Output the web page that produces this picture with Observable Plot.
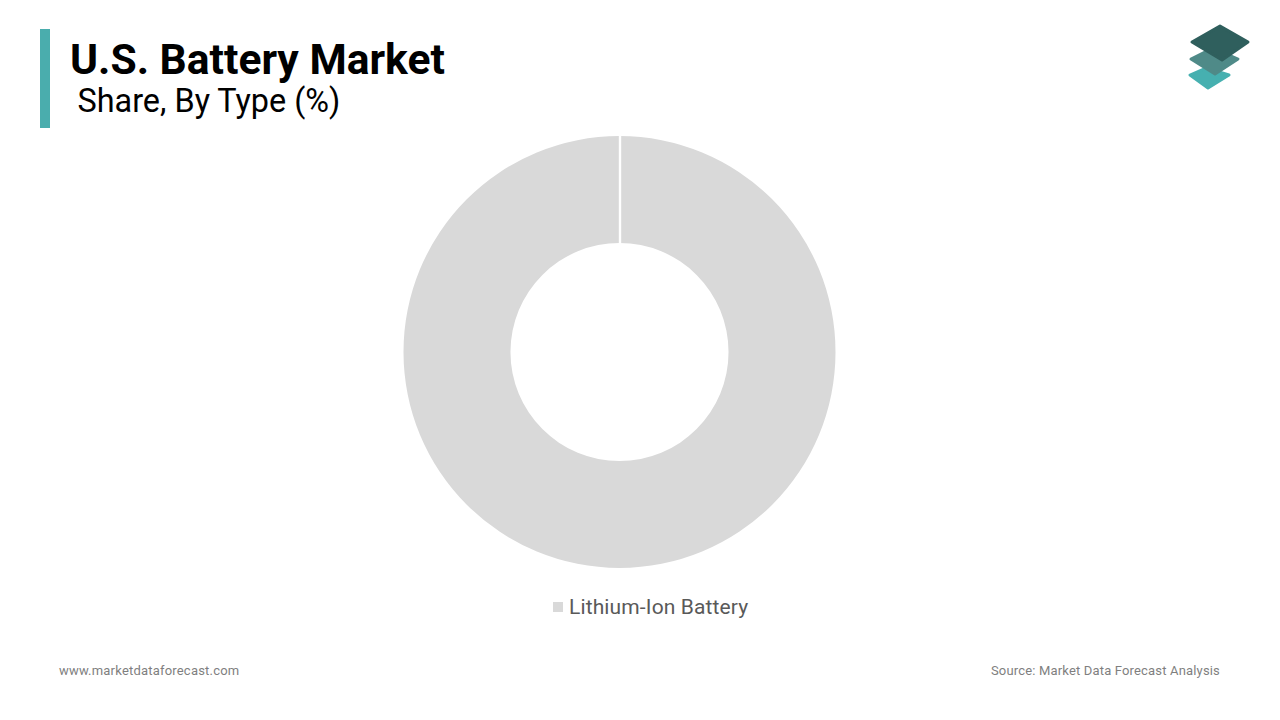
<!DOCTYPE html>
<html>
<head>
<meta charset="utf-8">
<script src="https://cdn.jsdelivr.net/npm/d3@7"></script>
<script src="https://cdn.jsdelivr.net/npm/@observablehq/plot@0.6"></script>
<style>
html,body{margin:0;padding:0;background:#fff;width:1280px;height:720px;overflow:hidden;font-family:Roboto,sans-serif}
.abs{position:absolute;white-space:nowrap;line-height:1}
#chart{position:absolute;left:0;top:130px;width:1280px;height:450px}
#chart svg{display:block}
</style>
</head>
<body>
<div class="abs" style="left:40px;top:29px;width:10px;height:99px;background:#4aadad"></div>
<div class="abs" id="title" style="left:70px;top:38px;font-size:42.6px;font-weight:700;color:#000">U.S. Battery Market</div>
<div class="abs" id="subtitle" style="left:77.5px;top:85px;font-size:32.4px;font-weight:400;color:#000">Share, By Type (%)</div>
<svg class="abs" style="left:1170px;top:10px" width="100" height="90" viewBox="1170 10 100 90">
  <g stroke-linejoin="round" stroke-width="3">
    <polygon points="1190,75 1206,68 1229,75 1208,88" fill="#46b0b0" stroke="#46b0b0"/>
    <polygon points="1191,59 1213,48 1238,59 1215,74" fill="#4f8a88" stroke="#4f8a88"/>
    <polygon points="1192,42 1220,26 1248,42 1222,60" fill="#2f5f5d" stroke="#2f5f5d"/>
  </g>
</svg>
<div id="chart"></div>
<div class="abs" style="left:553px;top:602px;width:10px;height:10px;background:#d9d9d9"></div>
<div class="abs" id="legend" style="left:569px;top:597px;font-size:21px;color:#595959;letter-spacing:.13px">Lithium-Ion Battery</div>
<div class="abs" id="footL" style="left:59px;top:664px;font-size:13px;color:#7f7f7f;letter-spacing:.2px">www.marketdataforecast.com</div>
<div class="abs" id="footR" style="right:60px;top:664px;font-size:13px;color:#7f7f7f;letter-spacing:.17px">Source: Market Data Forecast Analysis</div>
<script>
const categories = ["Lithium-Ion Battery"];
const shares = [100];
const colors = ["#d9d9d9"];

const slices = d3.pie().sort(null)(shares).map((a, i) => ({...a, type: categories[i], color: colors[i]}));
const outer = 216, inner = 109;

const donut = (index, {x, y}) => {
  const cx = x(0), cy = y(0);
  const unit = x(1) - x(0);
  const arc = d3.arc().innerRadius(inner * unit).outerRadius(outer * unit);
  const g = d3.create("svg:g").attr("transform", `translate(${cx},${cy})`);
  g.selectAll("path").data(slices).join("path")
    .attr("d", arc).attr("fill", d => d.color);
  return g.node();
};

const plot = Plot.plot({
  width: 1280, height: 450,
  margin: 0,
  x: {domain: [-619.5, 660.5], axis: null},
  y: {domain: [228, -222], axis: null},
  marks: [
    donut,
    Plot.ruleX(slices, {
      x: () => 0,
      y1: () => -outer - 2,
      y2: () => -inner + 2,
      stroke: "#fff",
      strokeWidth: 2.4
    })
  ]
});
document.getElementById("chart").append(plot);
</script>
</body>
</html>
